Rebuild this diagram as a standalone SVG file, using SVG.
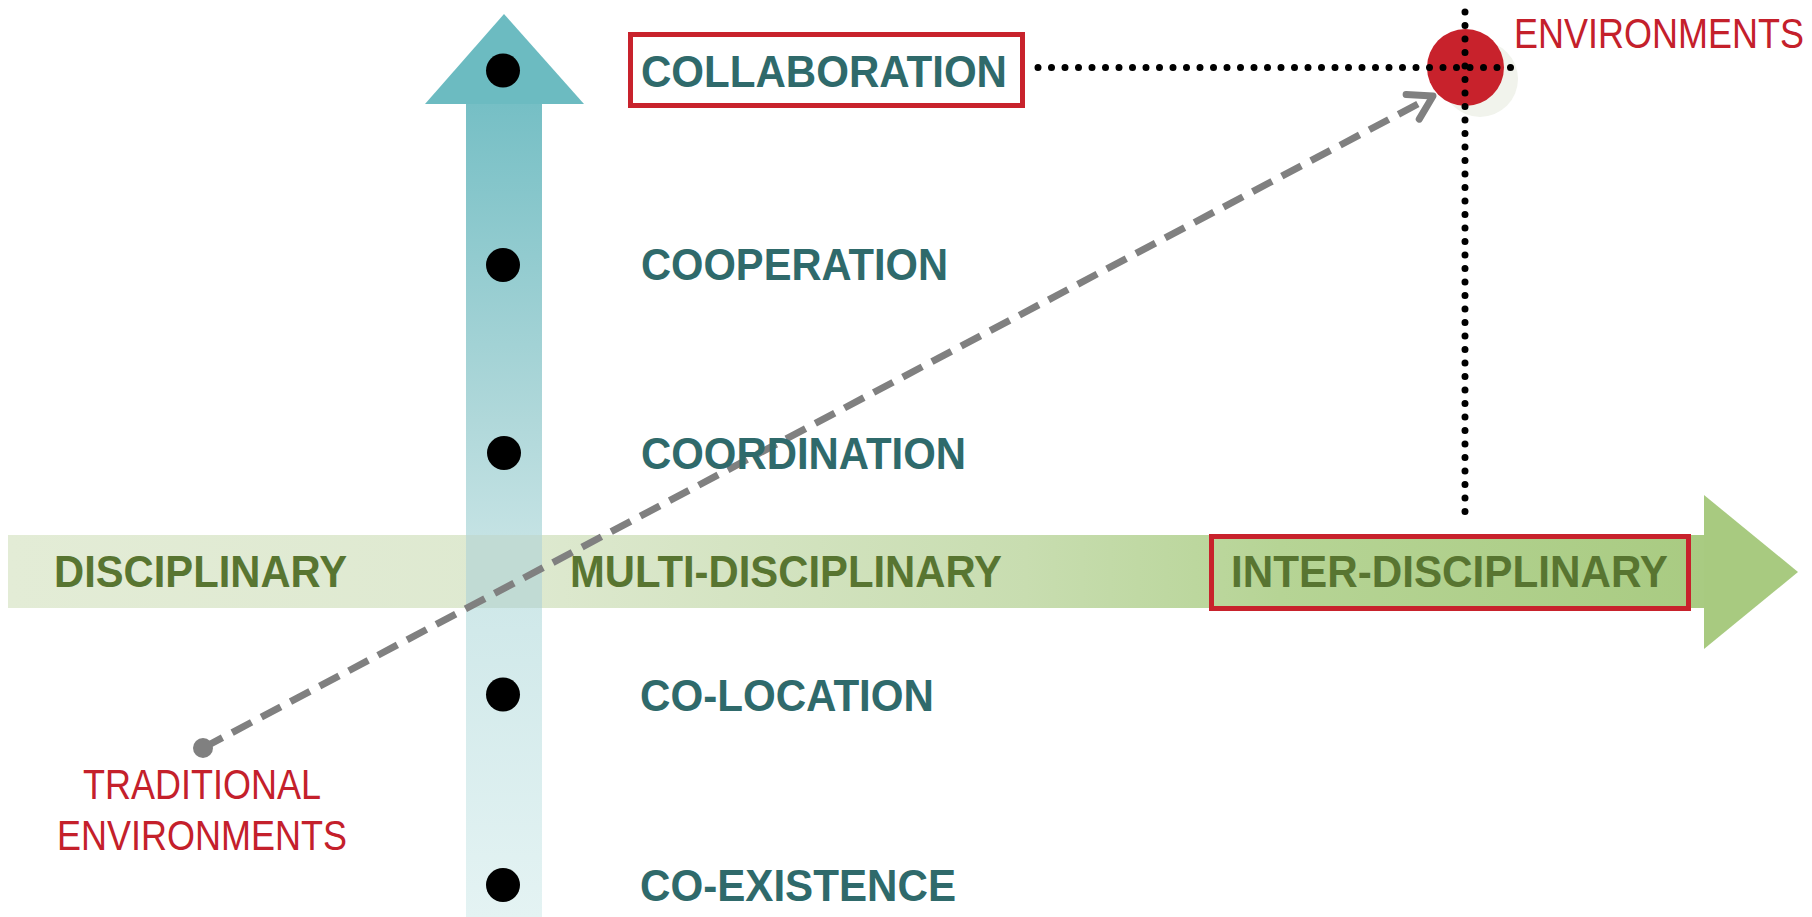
<svg xmlns="http://www.w3.org/2000/svg" width="1812" height="917" viewBox="0 0 1812 917">
<defs>
<linearGradient id="bandGrad" gradientUnits="userSpaceOnUse" x1="8" y1="0" x2="1704" y2="0">
<stop offset="0" stop-color="#E3ECD6"/>
<stop offset="0.3" stop-color="#DEE9D0"/>
<stop offset="0.6" stop-color="#C8DDB0"/>
<stop offset="0.75" stop-color="#B6D495"/>
<stop offset="1" stop-color="#A9CB82"/>
</linearGradient>
<linearGradient id="shaftGrad" gradientUnits="userSpaceOnUse" x1="0" y1="14" x2="0" y2="917">
<stop offset="0" stop-color="#6CBBC1"/>
<stop offset="0.1" stop-color="#76BFC5"/>
<stop offset="0.45" stop-color="#B0D8DA"/>
<stop offset="0.65" stop-color="#CFE8E9"/>
<stop offset="1" stop-color="#E4F3F3"/>
</linearGradient>
<marker id="chev" markerUnits="userSpaceOnUse" markerWidth="44" markerHeight="44" viewBox="-32 -22 44 44" refX="0" refY="0" orient="auto">
<path d="M-23,-14 L0,0 L-23,14" fill="none" stroke="#808080" stroke-width="7" stroke-linecap="round" stroke-linejoin="round"/>
</marker>
<style>
.teal{font-family:"Liberation Sans",Arial,sans-serif;font-weight:bold;font-size:44px;fill:#2F6A6B}
.green{font-family:"Liberation Sans",Arial,sans-serif;font-weight:bold;font-size:44px;fill:#587531}
.red{font-family:"Liberation Sans",Arial,sans-serif;font-size:36px;fill:#C4202B}
.box{fill:none;stroke:#C8222C;stroke-width:5}
.dot{fill:#000}
.dotted{fill:none;stroke:#000;stroke-width:7;stroke-linecap:round;stroke-dasharray:0 13.5}
</style>
</defs>
<rect width="1812" height="917" fill="#fff"/>

<g id="horizontal-axis">
<rect x="8" y="535" width="1697" height="73" fill="url(#bandGrad)"/>
<polygon points="1704,495 1798,572 1704,649" fill="#A8CA80"/>
</g>

<g id="vertical-axis">
<rect x="466" y="100" width="76" height="817" fill="url(#shaftGrad)"/>
<polygon points="504,14 584,104 425,104" fill="#6CBBC1"/>
<rect x="466" y="535" width="76" height="73" fill="#C1DBD4"/>
</g>

<g id="env-marker">
<circle cx="1480" cy="79" r="38" fill="#F1F3EC"/>
<circle cx="1465.5" cy="67.5" r="38.5" fill="#C8222C"/>
</g>

<g id="connectors">
<path class="dotted" d="M1038,67.5 H1518"/>
<path class="dotted" d="M1465,12 V516"/>
<circle cx="203" cy="748" r="10" fill="#808080"/>
<path d="M203,748 L1433,96" fill="none" stroke="#808080" stroke-width="7" stroke-dasharray="22 11" marker-end="url(#chev)"/>
</g>

<g id="levels">
<g id="collaboration">
<circle class="dot" cx="503" cy="70.5" r="17"/>
<rect class="box" x="630.5" y="34.5" width="392" height="71"/>
<text class="teal" x="641" y="87" textLength="366" lengthAdjust="spacingAndGlyphs">COLLABORATION</text>
</g>
<g id="cooperation">
<circle class="dot" cx="503" cy="265" r="17"/>
<text class="teal" x="641" y="280" textLength="307" lengthAdjust="spacingAndGlyphs">COOPERATION</text>
</g>
<g id="coordination">
<circle class="dot" cx="504" cy="453" r="17"/>
<text class="teal" x="641" y="469" textLength="325" lengthAdjust="spacingAndGlyphs">COORDINATION</text>
</g>
<g id="co-location">
<circle class="dot" cx="503" cy="694.5" r="17"/>
<text class="teal" x="640" y="711" textLength="294" lengthAdjust="spacingAndGlyphs">CO-LOCATION</text>
</g>
<g id="co-existence">
<circle class="dot" cx="503" cy="885" r="17"/>
<text class="teal" x="640" y="901" textLength="316" lengthAdjust="spacingAndGlyphs">CO-EXISTENCE</text>
</g>
</g>

<g id="disciplines">
<g id="disciplinary">
<text class="green" x="54" y="587" textLength="293" lengthAdjust="spacingAndGlyphs">DISCIPLINARY</text>
</g>
<g id="multi-disciplinary">
<text class="green" x="570" y="587" textLength="432" lengthAdjust="spacingAndGlyphs">MULTI-DISCIPLINARY</text>
</g>
<g id="inter-disciplinary">
<rect class="box" x="1211.5" y="536.5" width="477" height="72"/>
<text class="green" x="1231" y="587" textLength="437" lengthAdjust="spacingAndGlyphs">INTER-DISCIPLINARY</text>
</g>
</g>

<g id="environments">
<text class="red" transform="translate(1514,48) scale(1,1.18)" x="0" y="0">ENVIRONMENTS</text>
</g>
<g id="traditional-environments">
<text class="red" transform="translate(83,799) scale(1,1.2)" x="0" y="0">TRADITIONAL</text>
<text class="red" transform="translate(57,850) scale(1,1.2)" x="0" y="0">ENVIRONMENTS</text>
</g>
</svg>
